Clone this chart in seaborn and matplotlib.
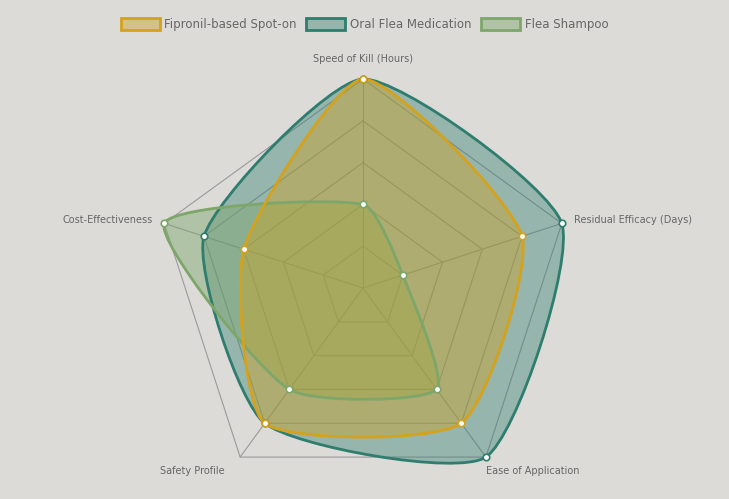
import numpy as np
import matplotlib
matplotlib.use("Agg")
import matplotlib.pyplot as plt
import seaborn as sns
from matplotlib.path import Path
from matplotlib.patches import PathPatch, Patch

sns.set_theme(style="white")
plt.rcParams['font.family'] = ['DejaVu Sans']

categories = ["Speed of Kill (Hours)", "Residual Efficacy (Days)", "Ease of Application",
              "Safety Profile", "Cost-Effectiveness"]
series_names = ["Fipronil-based Spot-on", "Oral Flea Medication", "Flea Shampoo"]
fipronil = [10, 8, 8, 8, 6]
oral = [10, 10, 10, 8, 8]
shampoo = [4, 2, 6, 6, 10]
ticks = [0, 2, 4, 6, 8, 10]
colors = ["#d4a21c", "#2e7d6e", "#7da66a"]
fills = [(0.80, 0.64, 0.15, 0.45), (0.18, 0.49, 0.43, 0.40), (0.49, 0.65, 0.42, 0.45)]

BG = "#dcdbd8"
fig = plt.figure(figsize=(7.29, 4.99), dpi=100, facecolor=BG)
ax = fig.add_axes([0, 0, 1, 1])
ax.set_facecolor(BG)
ax.set_xlim(0, 729); ax.set_ylim(499, 0); ax.axis("off")

cx, cy, R, vmax = 363, 288, 209, 10
n = len(categories)
ang = np.pi / 2 - np.arange(n) * 2 * np.pi / n

def pts(vals):
    r = np.array(vals) / vmax * R
    return np.column_stack([cx + r * np.cos(ang), cy - r * np.sin(ang)])

for t in ticks[1:]:
    p = pts([t] * n)
    p = np.vstack([p, p[:1]])
    ax.plot(p[:, 0], p[:, 1], color="#9a9a9a", lw=0.8, zorder=1)
outer = pts([vmax] * n)
for x, y in outer:
    ax.plot([cx, x], [cy, y], color="#9a9a9a", lw=0.8, zorder=1)

def smooth_path(p, t=0.2):
    m = len(p)
    cps = []
    for i in range(m):
        p0, p1, p2 = p[i - 1], p[i], p[(i + 1) % m]
        d01 = np.linalg.norm(p1 - p0); d12 = np.linalg.norm(p2 - p1)
        s = d01 + d12
        fa = t * d01 / s if s else 0; fb = t * d12 / s if s else 0
        cps.append((p1 - fa * (p2 - p0), p1 + fb * (p2 - p0)))
    verts = [p[0]]; codes = [Path.MOVETO]
    for i in range(m):
        j = (i + 1) % m
        verts += [cps[i][1], cps[j][0], p[j]]
        codes += [Path.CURVE4] * 3
    return Path(verts, codes)

series = [fipronil, oral, shampoo]
for idx in [1, 2, 0]:
    vals, c, f = series[idx], colors[idx], fills[idx]
    path = smooth_path(pts(vals))
    ax.add_patch(PathPatch(path, facecolor=f, edgecolor="none", zorder=2))
    ax.add_patch(PathPatch(path, facecolor="none", edgecolor=c, lw=2.0, zorder=3))
for idx in [1, 2, 0]:
    p = pts(series[idx])
    ax.scatter(p[:, 0], p[:, 1], s=22, facecolor="white", edgecolor=colors[idx], lw=1.2, zorder=4)

lab = pts([vmax * 1.06] * n)
has = ["center", "left", "center", "center", "right"]
for (x, y), txt, ha, a in zip(lab, categories, has, ang):
    if txt == "Speed of Kill (Hours)":
        y -= 7
    elif np.sin(a) < -0.5:
        y += 4
        x += 40 if np.cos(a) > 0 else -40
    ax.text(x, y, txt, ha=ha, va="center", fontsize=7, color="#666666")

handles = [Patch(facecolor=f, edgecolor=c, lw=2) for c, f in zip(colors, fills)]
fig.legend(handles, series_names, loc="upper center", bbox_to_anchor=(0.5, 0.985), ncol=3,
           frameon=False, fontsize=8.5, labelcolor="#666666", handlelength=3.3, handleheight=1.1,
           columnspacing=0.8, handletextpad=0.4)
fig.savefig("out.png", dpi=100, facecolor=BG)
